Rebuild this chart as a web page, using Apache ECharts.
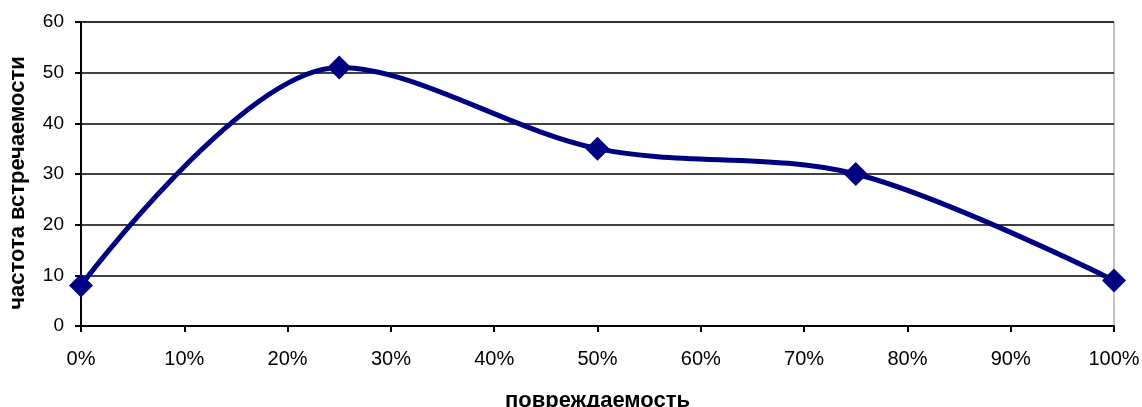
<!DOCTYPE html>
<html>
<head>
<meta charset="utf-8">
<script src="https://cdn.jsdelivr.net/npm/echarts@6/dist/echarts.min.js"></script>
<style>
  html, body { margin: 0; padding: 0; background: #fff; }
  #chart { width: 1142px; height: 407px; }
</style>
</head>
<body>
<div id="chart"></div>
<script>
// Damage share (x, %) and how often it occurs (y)
const damage = [0, 25, 50, 75, 100];
const frequency = [8, 51, 35, 30, 9];
const xTicks = [0, 10, 20, 30, 40, 50, 60, 70, 80, 90, 100];
const yTicks = [0, 10, 20, 30, 40, 50, 60];

const xTitle = 'повреждаемость';
const yTitle = 'частота встречаемости';

const points = damage.map((d, i) => [d, frequency[i]]);
const font = 'Liberation Sans, Arial, sans-serif';

const chart = echarts.init(document.getElementById('chart'), null, { renderer: 'canvas' });
chart.setOption({
  animation: false,
  backgroundColor: '#fff',
  grid: {
    left: 81, right: 28, top: 22, bottom: 81,
    outerBoundsMode: 'none', containLabel: false,
    show: true, borderColor: '#888', borderWidth: 1
  },
  xAxis: {
    type: 'value',
    min: xTicks[0],
    max: xTicks[xTicks.length - 1],
    interval: 10,
    name: xTitle,
    nameLocation: 'middle',
    nameGap: 64,
    nameTextStyle: { fontFamily: font, fontSize: 22, fontWeight: 'bold', color: '#000' },
    axisLine: { show: true, lineStyle: { color: '#000', width: 2 } },
    axisTick: { show: true, length: 6, inside: false, lineStyle: { color: '#000', width: 2 } },
    axisLabel: { fontFamily: font, fontSize: 20, color: '#000', margin: 23, formatter: v => v + '%' },
    splitLine: { show: false }
  },
  yAxis: {
    type: 'value',
    min: yTicks[0],
    max: yTicks[yTicks.length - 1],
    interval: 10,
    name: yTitle,
    nameLocation: 'middle',
    nameGap: 52,
    // extra right padding nudges the rotated title slightly downward
    nameTextStyle: { fontFamily: font, fontSize: 22, fontWeight: 'bold', color: '#000', padding: [0, 18, 0, 0] },
    axisLine: { show: true, lineStyle: { color: '#000', width: 2 } },
    axisTick: { show: true, length: 6, inside: false, lineStyle: { color: '#000', width: 2 } },
    axisLabel: { fontFamily: font, fontSize: 19, color: '#000', margin: 17 },
    splitLine: { show: true, lineStyle: { color: '#000', width: 1.5 } }
  },
  series: [{
    type: 'line',
    data: points,
    smooth: 0.33,
    clip: false,
    symbol: 'diamond',
    symbolSize: 24,
    lineStyle: { color: '#000080', width: 5 },
    itemStyle: { color: '#000080' }
  }]
});
</script>
</body>
</html>
